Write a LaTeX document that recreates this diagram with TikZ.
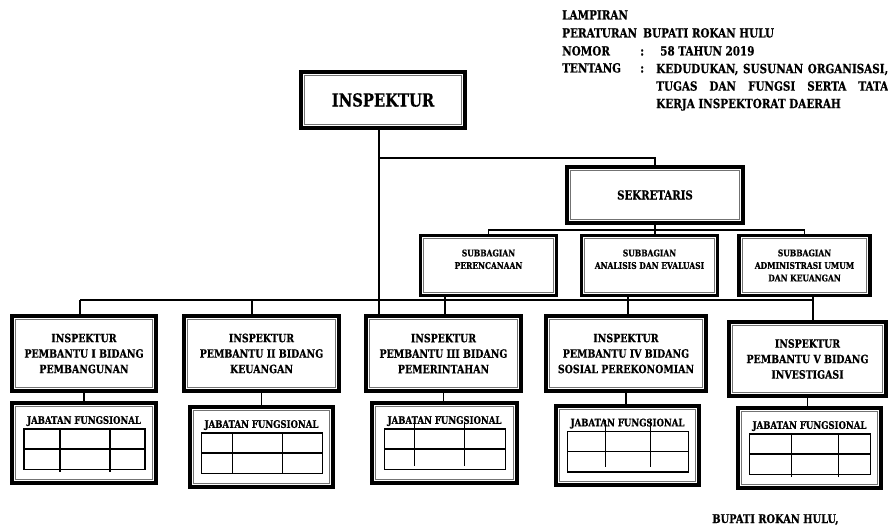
\documentclass[tikz,border=0pt]{standalone}
\usepackage{fontspec}
\setmainfont{DejaVu Serif}[FakeStretch=0.82, BoldFont={DejaVu Serif Bold}, BoldFeatures={FakeBold=0.6}]
\usetikzlibrary{positioning}

\tikzset{
  frame/.style={draw, line width=2.8pt, align=center, inner sep=2pt,
    append after command={\pgfextra{\draw[black!55, line width=0.9pt]
      ([shift={(3.9pt,-3.9pt)}]\tikzlastnode.north west) rectangle
      ([shift={(-3.9pt,3.9pt)}]\tikzlastnode.south east);}}},
  hdr/.style={anchor=base west, inner sep=0pt, font=\bfseries\fontsize{9.5}{13.1}\selectfont},
}

\begin{document}
\begin{tikzpicture}[x=0.75pt, y=-0.75pt,
  conn/.style={line width=1pt},
  cell/.style={line width=0.8pt},
  boss/.style={frame, minimum width=122.5pt, minimum height=41.5pt,
    font=\bfseries\fontsize{13.5}{16}\selectfont},
  sekre/.style={frame, minimum width=131.5pt, minimum height=41.5pt,
    font=\bfseries\fontsize{9.3}{11}\selectfont},
  subbag/.style={frame, minimum width=102pt, minimum height=45pt,
    font=\bfseries\fontsize{6.9}{9.4}\selectfont},
  pembantu/.style={frame, minimum width=115.75pt, minimum height=55.75pt,
    font=\bfseries\fontsize{8.6}{11.6}\selectfont},
  jabatan/.style={frame, minimum width=106.75pt, minimum height=59.5pt, text depth=34.5pt,
    font=\bfseries\fontsize{7.8}{9}\selectfont}]
  \useasboundingbox (0,0) rectangle (888,527);

  % kop lampiran
  \node[hdr] (lampiran) at (562,19.5) {LAMPIRAN};
  \node[hdr] (peraturan) at (562,37.5) {PERATURAN};
  \node[hdr] (bupati) at (643,37.5) {BUPATI ROKAN HULU};
  \node[hdr] (nomor) at (562,55.5) {NOMOR};
  \node[hdr] (nomorsep) at (640,55.5) {:};
  \node[hdr] (nomorisi) at (660,55.5) {58 TAHUN 2019};
  \node[hdr] (tentang) at (562,72.5) {TENTANG};
  \node[hdr] (tentangsep) at (640,72.5) {:};
  \node[hdr, anchor=north west, text width=174pt, align=justify] (tentangisi) at (656,63.5)
    {KEDUDUKAN, SUSUNAN ORGANISASI,\linebreak TUGAS DAN FUNGSI SERTA TATA\linebreak KERJA INSPEKTORAT DAERAH};

  % pimpinan
  \node[boss] (insp) at (383,100) {INSPEKTUR};
  \node[sekre] (sekr) at (655,195) {SEKRETARIS};

  % subbagian
  \node[subbag] (sb1) at (488.5,265.5) {SUBBAGIAN\\PERENCANAAN\\\mbox{}};
  \node[subbag] (sb2) at (649.5,265.5) {SUBBAGIAN\\ANALISIS DAN EVALUASI\\\mbox{}};
  \node[subbag, minimum width=97.75pt] (sb3) at (804.5,265.5) {SUBBAGIAN\\ADMINISTRASI UMUM\\DAN KEUANGAN};

  % inspektur pembantu
  \node[pembantu, minimum width=107.5pt] (ip1) at (84,353.5) {INSPEKTUR\\PEMBANTU I BIDANG\\PEMBANGUNAN};
  \node[pembantu] (ip2) at (261.5,353.5) {INSPEKTUR\\PEMBANTU II BIDANG\\KEUANGAN};
  \node[pembantu] (ip3) at (443.5,353.5) {INSPEKTUR\\PEMBANTU III BIDANG\\PEMERINTAHAN};
  \node[pembantu, minimum width=119.5pt] (ip4) at (626,353.5) {INSPEKTUR\\PEMBANTU IV BIDANG\\SOSIAL PEREKONOMIAN};
  \node[pembantu, minimum width=117.25pt, minimum height=55pt] (ip5) at (807.5,359) {INSPEKTUR\\PEMBANTU V BIDANG\\INVESTIGASI};

  % jabatan fungsional
  \node[jabatan, minimum width=107.5pt] (jf1) at (84,443) {JABATAN FUNGSIONAL};
  \node[jabatan] (jf2) at (261.5,447) {JABATAN FUNGSIONAL};
  \node[jabatan, minimum width=108.25pt] (jf3) at (444.5,443) {JABATAN FUNGSIONAL};
  \node[jabatan] (jf4) at (627.5,445.5) {JABATAN FUNGSIONAL};
  \node[jabatan] (jf5) at (809.5,448) {JABATAN FUNGSIONAL};

  \foreach \n/\a/\c/\t/\b in {jf1/-24/26/0/2, jf2/-29/21/0/0, jf3/-30/20/-6/-4, jf4/-22/23/-12/-5, jf5/-18/29/0/2} {
    \draw[cell] ([shift={(-60,-14)}]\n.center) rectangle ([shift={(61,26.5)}]\n.center);
    \draw[cell] ([shift={(-60,6)}]\n.center) -- ([shift={(61,6)}]\n.center);
    \draw[cell] ([shift={(\a,-14+\t)}]\n.center) -- ([shift={(\a,26.5+\b)}]\n.center);
    \draw[cell] ([shift={(\c,-14+\t)}]\n.center) -- ([shift={(\c,26.5+\b)}]\n.center);
  }

  % garis komando
  \coordinate (kink) at (379,158);
  \coordinate (sbus) at (655,230);
  \coordinate (busL) at (80,300);
  \coordinate (b2) at (252,300);
  \coordinate (b4) at (445,300);
  \coordinate (b5) at (628,300);
  \coordinate (busR) at (813,300);

  \draw[conn] (insp.south -| kink) -- (ip3.north -| kink);
  \draw[conn] (kink) -| (sekr.north);
  \draw[conn] (sekr.south) -- (sbus);
  \draw[conn] (sb1.north) |- (sbus) -| (sb3.north);
  \draw[conn] (sbus) -- (sbus |- sb2.north);
  \draw[conn] (busL) -- (busR);
  \draw[conn] (busL) -- (busL |- ip1.north);
  \draw[conn] (b2) -- (b2 |- ip2.north);
  \draw[conn] (sb1.south -| b4) -- (ip3.north -| b4);
  \draw[conn] (sb2.south -| b5) -- (ip4.north -| b5);
  \draw[conn] (sb3.south -| busR) -- (ip5.north -| busR);
  \foreach \i in {1,...,5}
    \draw[conn] (ip\i.south) -- (ip\i.south |- jf\i.north);

  % tanda tangan
  \node[hdr, font=\bfseries\fontsize{9}{11}\selectfont] (ttd) at (712,523) {BUPATI ROKAN HULU,};
\end{tikzpicture}
\end{document}
